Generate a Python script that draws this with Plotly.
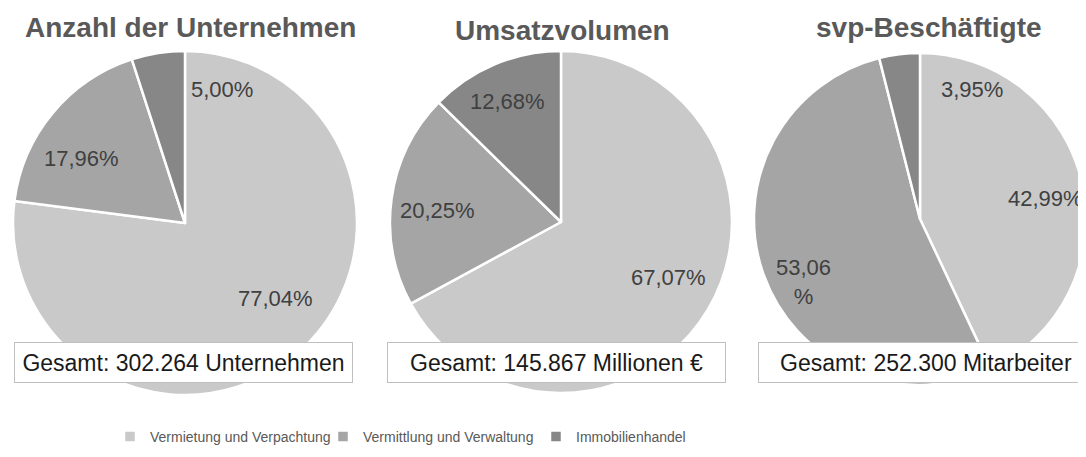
import plotly.graph_objects as go

# The page body has an 8px margin, so the figure is sized to fill the window from there
OX, OY = 8, 8
W, H = 1086 - OX, 457 - OY

categories = ["Vermietung und Verpachtung", "Vermittlung und Verwaltung", "Immobilienhandel"]
colors = ["#c9c9c9", "#a5a5a5", "#878787"]

titles = ["Anzahl der Unternehmen", "Umsatzvolumen", "svp-Beschäftigte"]
unternehmen = [77.04, 17.96, 5.00]
umsatz = [67.07, 20.25, 12.68]
beschaeftigte = [42.99, 53.06, 3.95]
totals = ["Gesamt: 302.264 Unternehmen", "Gesamt: 145.867 Millionen €", "Gesamt: 252.300 Mitarbeiter"]

series = [unternehmen, umsatz, beschaeftigte]

# layout geometry in screen pixels (center x, center y, radius)
pies_px = [(185, 223, 172), (561, 222, 171), (920, 219, 166)]
# label positions (screen pixels) per pie, in category order
label_px = [
    [(275, 298), (81, 158), (222, 90)],
    [(668, 277), (437, 210), (507, 101)],
    [(1045, 198), (803, 282), (972, 90)],
]
title_px = [(190, 28), (562, 30), (929, 27)]
box_px = [(14, 353), (387, 726), (758, 1094)]
box_y = (342, 383)

FONT = "Liberation Sans, Arial, sans-serif"


def px(x):
    return (x - OX) / W


def py(y):
    return 1 - (y - OY) / H


def fmt(v):
    return f"{v:.2f}".replace(".", ",") + "%"


fig = go.Figure()
for i, vals in enumerate(series):
    cx, cy, r = pies_px[i]
    fig.add_trace(go.Pie(
        labels=categories,
        values=vals,
        sort=False,
        direction="clockwise",
        rotation=0,
        textinfo="none",
        hoverinfo="label+percent",
        marker=dict(colors=colors, line=dict(color="white", width=2.5)),
        domain=dict(x=[px(cx - r), px(cx + r)],
                    y=[py(cy + r), py(cy - r)]),
        showlegend=(i == 0),
    ))

annotations = []
for i, vals in enumerate(series):
    for j, v in enumerate(vals):
        x, y = label_px[i][j]
        txt = fmt(v)
        if i == 2 and j == 1:
            txt = fmt(v)[:-1] + "<br>%"
        annotations.append(dict(
            x=px(x), y=py(y), xref="paper", yref="paper",
            text=txt, showarrow=False, xanchor="center", yanchor="middle",
            font=dict(family=FONT, size=22, color="#404040"),
        ))
    tx, ty = title_px[i]
    annotations.append(dict(
        x=px(tx), y=py(ty), xref="paper", yref="paper",
        text=f"<b>{titles[i]}</b>", showarrow=False, xanchor="center", yanchor="middle",
        font=dict(family=FONT, size=28, color="#595959"),
    ))
    bx0, bx1 = box_px[i]
    annotations.append(dict(
        x=px((bx0 + bx1) / 2), y=py((box_y[0] + box_y[1]) / 2),
        xref="paper", yref="paper",
        text=totals[i], showarrow=False, xanchor="center", yanchor="middle",
        width=bx1 - bx0 - 2, height=box_y[1] - box_y[0] - 2,
        bgcolor="white", bordercolor="#bfbfbf", borderwidth=1, borderpad=0,
        font=dict(family=FONT, size=23, color="#1a1a1a"),
    ))

fig.update_layout(
    width=W, height=H,
    margin=dict(l=0, r=0, t=0, b=0),
    paper_bgcolor="white",
    plot_bgcolor="white",
    annotations=annotations,
    legend=dict(
        orientation="h",
        x=px(110), xanchor="left",
        y=py(437), yanchor="middle",
        font=dict(family=FONT, size=14, color="#595959"),
        entrywidth=168, entrywidthmode="pixels",
        bgcolor="rgba(0,0,0,0)",
    ),
)

fig.write_html("out.html")
